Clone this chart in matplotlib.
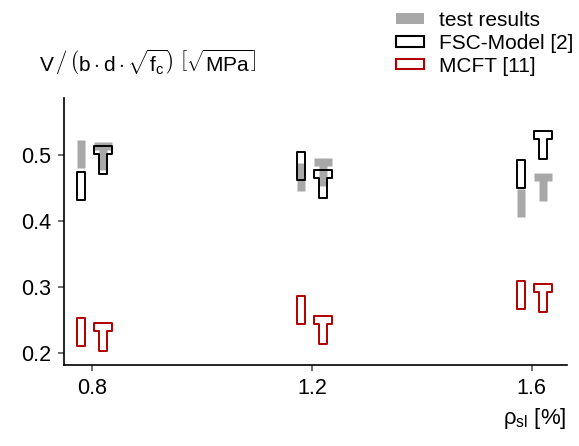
import matplotlib
matplotlib.use('Agg')
import matplotlib.pyplot as plt
from matplotlib.path import Path
from matplotlib.patches import Patch

plt.rcParams['font.family'] = ['Liberation Sans', 'DejaVu Sans']
plt.rcParams['mathtext.fontset'] = 'custom'
plt.rcParams['mathtext.rm'] = 'Liberation Sans'
plt.rcParams['mathtext.it'] = 'Liberation Sans:italic'
plt.rcParams['mathtext.bf'] = 'Liberation Sans:bold'

# longitudinal reinforcement ratio [%]
rho_sl = [0.8, 1.2, 1.6]

# normalised shear strength, rectangular sections
test_rect = [0.501, 0.467, 0.427]
fsc_rect = [0.453, 0.483, 0.471]
mcft_rect = [0.232, 0.265, 0.288]

# normalised shear strength, T-sections
test_T = [0.499, 0.475, 0.451]
fsc_T = [0.492, 0.456, 0.516]
mcft_T = [0.225, 0.235, 0.283]

# marker shapes: plain rectangle and T-beam cross section
rect_path = Path([(-0.15, -0.5), (0.15, -0.5), (0.15, 0.5), (-0.15, 0.5), (-0.15, -0.5)],
                 [Path.MOVETO, Path.LINETO, Path.LINETO, Path.LINETO, Path.CLOSEPOLY])
t_verts = [(-0.16, -0.5), (0.16, -0.5), (0.16, 0.23), (0.33, 0.23), (0.33, 0.5),
           (-0.33, 0.5), (-0.33, 0.23), (-0.16, 0.23), (-0.16, -0.5)]
t_path = Path(t_verts, [Path.MOVETO] + [Path.LINETO] * 7 + [Path.CLOSEPOLY])

dx = 0.02
x_rect = [x - dx for x in rho_sl]
x_T = [x + dx for x in rho_sl]

grey = '#a8a8a8'
red = '#b00000'
msize = 19.5

fig = plt.figure(figsize=(5.79, 4.46), dpi=100)
ax = fig.add_axes([0.1105, 0.1816, 0.8685, 0.598])

# test results (filled)
ax.plot(x_rect, test_rect, ls='none', marker=rect_path, ms=msize, mfc=grey, mec='none')
ax.plot(x_T, test_T, ls='none', marker=t_path, ms=msize, mfc=grey, mec='none')
# models (outlines only)
ax.plot(x_rect, fsc_rect, ls='none', marker=rect_path, ms=msize, mfc='none', mec='black', mew=1.4)
ax.plot(x_T, fsc_T, ls='none', marker=t_path, ms=msize, mfc='none', mec='black', mew=1.4)
ax.plot(x_rect, mcft_rect, ls='none', marker=rect_path, ms=msize, mfc='none', mec=red, mew=1.4)
ax.plot(x_T, mcft_T, ls='none', marker=t_path, ms=msize, mfc='none', mec=red, mew=1.4)

ax.set_xlim(0.749, 1.664)
ax.set_ylim(0.182, 0.586)
ax.set_xticks(rho_sl)
ax.set_xticklabels(['0.8', '1.2', '1.6'])
ax.set_yticks([0.2, 0.3, 0.4, 0.5])
ax.set_yticklabels(['0.2', '0.3', '0.4', '0.5'])
ax.tick_params(labelsize=15.5, length=4.5, width=1.2, color='#555555', direction='out', pad=5)
for side in ['top', 'right']:
    ax.spines[side].set_visible(False)
for side in ['left', 'bottom']:
    ax.spines[side].set_linewidth(1.2)

ax.set_xlabel(r'ρ$_\mathrm{sl}$ [%]', fontsize=16, loc='right', labelpad=5)

fig.text(0.068, 0.86,
         r'$\mathrm{V}\,\left/\,\left(\mathrm{b}\cdot\mathrm{d}\cdot\sqrt{\mathrm{f_c}}\right)\right.\;'
         r'\left[\sqrt{\mathrm{MPa}}\right]$',
         fontsize=15, ha='left', va='center')

handles = [Patch(facecolor=grey, edgecolor='none'),
           Patch(facecolor='white', edgecolor='black', linewidth=1.5),
           Patch(facecolor='white', edgecolor=red, linewidth=1.5)]
labels = ['test results', 'FSC-Model [2]', 'MCFT [11]']
fig.legend(handles, labels, loc='upper right', bbox_to_anchor=(1.022, 1.017),
           frameon=False, fontsize=15, handlelength=1.35, handleheight=0.4,
           handletextpad=0.7, labelspacing=0.18)

fig.savefig('out.png', dpi=100)
